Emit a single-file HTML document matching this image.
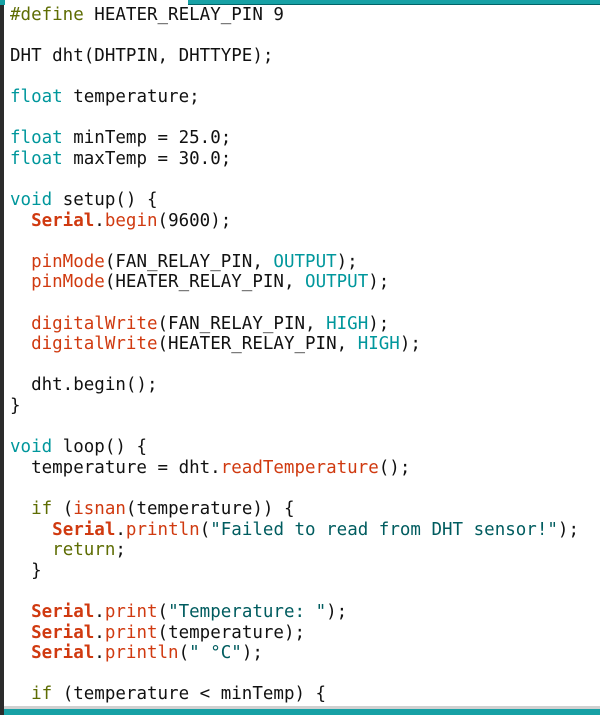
<!DOCTYPE html>
<html><head><meta charset="utf-8">
<style>
html,body{margin:0;padding:0;background:#fff;}
body{width:600px;height:715px;position:relative;overflow:hidden;}
#left{position:absolute;left:0;top:0;width:4px;height:715px;background:#2b2b2b;}
#tl{position:absolute;left:0;top:0;width:5px;height:5px;background:#17a1a5;}
#top{position:absolute;left:188px;top:0;width:412px;height:5px;background:#17a1a5;border-bottom:1px solid #006468;box-sizing:border-box;}
#bl{position:absolute;left:4px;top:706px;width:596px;height:3px;background:#d0d0d0;}
#bot{position:absolute;left:4px;top:709px;width:596px;height:6px;background:#17a1a5;}
pre{position:absolute;left:10px;top:4.7px;margin:0;font-family:"DejaVu Sans Mono","Liberation Mono",monospace;font-size:17.5px;line-height:20.6px;color:#111;}
.k{color:#00979c}
.f{color:#d03a10}
.s{color:#d03a10;font-weight:bold}
.d{color:#5e6d03}
.q{color:#005c5f}
</style></head><body>
<div id="left"></div><div id="tl"></div><div id="top"></div>
<pre><span class="d">#define</span> HEATER_RELAY_PIN 9

DHT dht(DHTPIN, DHTTYPE);

<span class="k">float</span> temperature;

<span class="k">float</span> minTemp = 25.0;
<span class="k">float</span> maxTemp = 30.0;

<span class="k">void</span> setup() {
  <span class="s">Serial</span>.<span class="f">begin</span>(9600);

  <span class="f">pinMode</span>(FAN_RELAY_PIN, <span class="k">OUTPUT</span>);
  <span class="f">pinMode</span>(HEATER_RELAY_PIN, <span class="k">OUTPUT</span>);

  <span class="f">digitalWrite</span>(FAN_RELAY_PIN, <span class="k">HIGH</span>);
  <span class="f">digitalWrite</span>(HEATER_RELAY_PIN, <span class="k">HIGH</span>);

  dht.begin();
}

<span class="k">void</span> loop() {
  temperature = dht.<span class="f">readTemperature</span>();

  <span class="d">if</span> (<span class="f">isnan</span>(temperature)) {
    <span class="s">Serial</span>.<span class="f">println</span>(<span class="q">"Failed to read from DHT sensor!"</span>);
    <span class="d">return</span>;
  }

  <span class="s">Serial</span>.<span class="f">print</span>(<span class="q">"Temperature: "</span>);
  <span class="s">Serial</span>.<span class="f">print</span>(temperature);
  <span class="s">Serial</span>.<span class="f">println</span>(<span class="q">" °C"</span>);

  <span class="d">if</span> (temperature &lt; minTemp) {</pre>
<div id="bl"></div><div id="bot"></div>
</body></html>
